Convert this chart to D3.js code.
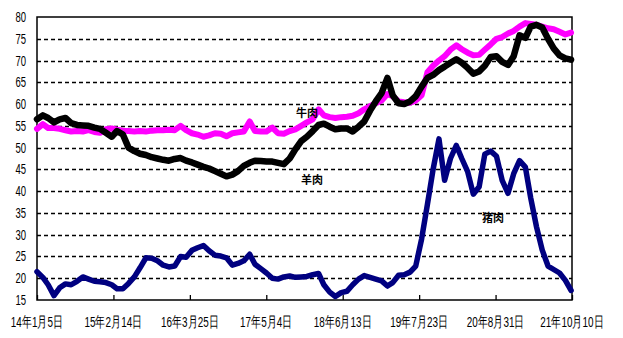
<!DOCTYPE html>
<html>

<head>
    <meta charset="utf-8">
    <title>牛肉 羊肉 猪肉</title>
    <style>
        body { margin: 0; background: #fff; }
        .num { font-family: "Liberation Sans", Arial, sans-serif; font-size: 14px; }
        .xnum { font-family: "Liberation Sans", Arial, sans-serif; font-size: 15px; }
        .lbl { font-family: "Noto Sans CJK SC", sans-serif; font-size: 11px; font-weight: bold; }
    </style>
</head>

<body>
    <script src="https://d3js.org/d3.v7.min.js"></script>
    <script>
        // monthly series, first point 2014-01-05, one value per month
        let startYear = 2014, startMonth = 0, startDay = 5;
        let beef = [54.3, 55.4, 54.5, 54.5, 54.3, 54.0, 53.7, 53.8, 53.7, 54.0, 53.6, 53.4,
            54.2, 54.4, 54.1, 53.9, 53.8, 53.7, 53.8, 53.7, 53.9, 54.0, 54.0, 54.1,
            54.0, 55.0, 54.0, 53.3, 53.0, 52.5, 52.8, 53.3, 53.2, 52.6, 53.3, 53.5,
            53.7, 56.0, 53.8, 53.7, 53.7, 54.6, 53.3, 53.2, 53.8, 54.2, 55.0, 55.8,
            56.5, 58.8, 57.4, 57.0, 56.8, 57.0, 57.1, 57.3, 57.9, 58.8, 59.5, 60.2,
            60.8, 62.3, 61.8, 60.6, 60.4, 60.3, 60.8, 62.0, 67.3, 68.8, 70.0, 71.0,
            72.5, 73.5, 72.6, 71.8, 71.2, 71.3, 72.5, 73.7, 75.0, 75.4, 76.2, 76.8,
            77.8, 78.6, 78.4, 78.2, 77.8, 77.4, 77.2, 76.6, 76.0, 76.4];
        let mutton = [56.5, 57.4, 56.8, 55.8, 56.5, 56.8, 55.6, 55.2, 55.1, 55.0, 54.6, 54.3,
            53.4, 52.5, 53.8, 53.0, 50.0, 49.2, 48.6, 48.3, 47.8, 47.5, 47.2, 47.0,
            47.4, 47.6, 47.0, 46.6, 46.1, 45.6, 45.2, 44.6, 44.0, 43.4, 43.8, 44.6,
            45.8, 46.5, 47.0, 46.9, 46.8, 46.8, 46.5, 46.2, 47.5, 49.6, 51.5, 52.5,
            53.8, 55.2, 55.5, 54.8, 54.2, 54.4, 54.4, 53.7, 54.8, 56.0, 58.5, 60.6,
            62.5, 66.0, 62.0, 60.2, 60.0, 60.6, 61.8, 64.0, 66.0, 66.7, 67.8, 68.6,
            69.5, 70.3, 69.5, 68.3, 67.0, 67.5, 68.8, 70.8, 71.0, 69.7, 69.0, 71.0,
            75.8, 75.2, 77.8, 78.2, 77.6, 75.0, 72.8, 71.2, 70.5, 70.2];
        let pork = [21.5, 20.2, 18.5, 16.0, 17.8, 18.7, 18.5, 19.3, 20.3, 19.8, 19.3, 19.2,
            19.0, 18.5, 17.6, 17.6, 18.8, 20.3, 22.4, 24.7, 24.6, 24.0, 23.0, 22.6,
            22.8, 25.0, 24.8, 26.4, 27.0, 27.5, 26.3, 25.3, 25.1, 24.7, 23.0, 23.4,
            24.0, 25.5, 23.2, 22.2, 21.2, 20.0, 19.8, 20.3, 20.5, 20.2, 20.3, 20.4,
            20.8, 21.1, 18.5, 16.8, 15.8, 16.7, 17.0, 18.5, 19.8, 20.6, 20.2, 19.8,
            19.4, 18.2, 19.0, 20.7, 20.8, 21.4, 22.8, 29.0, 37.0, 45.0, 52.0, 42.5,
            47.5, 50.5, 47.5, 44.5, 39.3, 41.0, 48.5, 49.2, 48.0, 42.5, 39.5, 44.0,
            47.0, 45.5, 38.5, 31.8, 26.5, 22.8, 22.0, 21.2, 19.5, 17.2];
        let tickDates = ["2014-01-05", "2015-02-14", "2016-03-25", "2017-05-04",
            "2018-06-13", "2019-07-23", "2020-08-31", "2021-10-10"];
        let tickLabels = ["14年1月5日", "15年2月14日", "16年3月25日", "17年5月4日",
            "18年6月13日", "19年7月23日", "20年8月31日", "21年10月10日"];
        let yTicks = [15, 20, 25, 30, 35, 40, 45, 50, 55, 60, 65, 70, 75, 80];

        let width = 623, height = 338;
        let pLeft = 37, pRight = 572, pTop = 17, pBottom = 300;
        let squeeze = 0.68; // the original font is very narrow

        let parse = d3.timeParse("%Y-%m-%d");
        let months = d3.range(beef.length).map(function(i) {
            return new Date(startYear, startMonth + i, startDay);
        });

        let x = d3.scaleTime()
            .domain([parse(tickDates[0]), parse(tickDates[tickDates.length - 1])])
            .range([pLeft, pRight]);
        let y = d3.scaleLinear().domain([15, 80]).range([pBottom, pTop]);

        let svg = d3.select("body").append("svg")
            .attr("width", width)
            .attr("height", height);

        // dashed grid
        svg.selectAll("line.grid")
            .data(yTicks.slice(1, -1))
            .enter()
            .append("line")
            .attr("class", "grid")
            .attr("x1", pLeft)
            .attr("x2", pRight)
            .attr("y1", function(d) { return Math.round(y(d)) + 0.5; })
            .attr("y2", function(d) { return Math.round(y(d)) + 0.5; })
            .attr("stroke", "#000")
            .attr("stroke-width", 1.3)
            .attr("stroke-dasharray", "4,3");

        // y labels
        svg.selectAll("text.ylab")
            .data(yTicks)
            .enter()
            .append("text")
            .attr("class", "num")
            .attr("transform", function(d) {
                return "translate(26," + (y(d) + 5) + ") scale(" + squeeze + ",1)";
            })
            .attr("text-anchor", "end")
            .text(function(d) { return d; });

        // x axis with inner ticks
        let xAxis = d3.axisTop(x)
            .tickValues(tickDates.map(parse))
            .tickSize(5)
            .tickFormat("");
        svg.append("g")
            .attr("transform", "translate(0," + pBottom + ")")
            .call(xAxis)
            .call(function(g) { g.select(".domain").remove(); })
            .selectAll("line").attr("stroke", "#000").attr("stroke-width", 1.3);

        svg.selectAll("text.xlab")
            .data(tickDates)
            .enter()
            .append("text")
            .attr("class", "xnum")
            .attr("transform", function(d) {
                return "translate(" + x(parse(d)) + ",327) scale(0.66,1)";
            })
            .attr("text-anchor", "middle")
            .text(function(d, i) { return tickLabels[i]; });

        // plot border
        svg.append("path")
            .attr("d", "M" + pLeft + "," + pTop + "H" + pRight + "V" + pBottom + "H" + pLeft + "Z")
            .attr("fill", "none")
            .attr("stroke", "#000")
            .attr("stroke-width", 1.5);

        let line = d3.line()
            .x(function(d, i) { return x(months[i]); })
            .y(function(d) { return y(d); });

        let series = [
            { values: beef, color: "#ff00ff", w: 6 },
            { values: mutton, color: "#000000", w: 6.5 },
            { values: pork, color: "#000080", w: 5.5 }
        ];
        svg.selectAll("path.series")
            .data(series)
            .enter()
            .append("path")
            .attr("class", "series")
            .attr("d", function(d) { return line(d.values); })
            .attr("fill", "none")
            .attr("stroke", function(d) { return d.color; })
            .attr("stroke-width", function(d) { return d.w; })
            .attr("stroke-linejoin", "round")
            .attr("stroke-linecap", "round");

        // series names
        let names = [
            { text: "牛肉", x: 307, y: 117 },
            { text: "羊肉", x: 312, y: 184 },
            { text: "猪肉", x: 493, y: 222 }
        ];
        svg.selectAll("text.name")
            .data(names)
            .enter()
            .append("text")
            .attr("class", "lbl")
            .attr("x", function(d) { return d.x; })
            .attr("y", function(d) { return d.y; })
            .attr("text-anchor", "middle")
            .text(function(d) { return d.text; });
    </script>
</body>

</html>
